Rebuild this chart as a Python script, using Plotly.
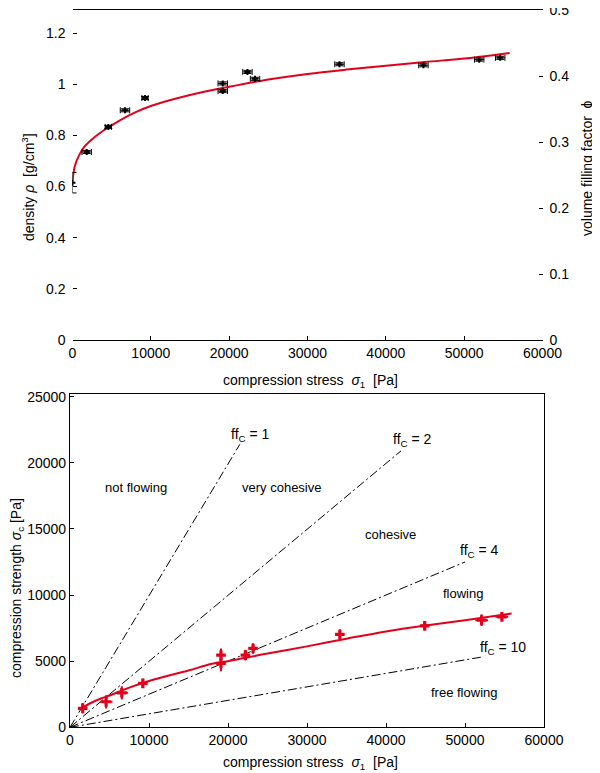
import plotly.graph_objects as go

# ---------------- top panel data ----------------
top_sigma = [0, 1810, 4570, 6700, 9260, 19180, 19180, 22330, 23300, 34080, 44800, 51920, 54600]
top_rho = [0.615, 0.735, 0.833, 0.898, 0.946, 1.003, 0.973, 1.048, 1.021, 1.078, 1.074, 1.096, 1.103]
top_err_x = [0, 600, 400, 600, 400, 600, 600, 600, 600, 600, 600, 600, 600]
top_err_y = [0.04, 0.006, 0.006, 0.006, 0.006, 0.006, 0.006, 0.006, 0.006, 0.006, 0.006, 0.006, 0.006]

top_fit_sigma = [0, 300, 800, 1500, 2500, 4000, 6000, 8000, 10000, 15000, 20000, 25000, 30000, 35000, 40000, 45000, 50000, 55800]
top_fit_rho = [0.62, 0.68, 0.72, 0.755, 0.785, 0.82, 0.858, 0.89, 0.915, 0.958, 0.99, 1.018, 1.04, 1.057, 1.072, 1.087, 1.10, 1.122]

x_ticks = [0, 10000, 20000, 30000, 40000, 50000, 60000]
x_tick_text = ["0", "10000", "20000", "30000", "40000", "50000", "60000"]
rho_ticks = [0, 0.2, 0.4, 0.6, 0.8, 1.0, 1.2]
rho_tick_text = ["0", "0.2", "0.4", "0.6", "0.8", "1", "1.2"]
phi_ticks = [0, 0.1, 0.2, 0.3, 0.4, 0.5]
phi_tick_text = ["0", "0.1", "0.2", "0.3", "0.4", "0.5"]

# ---------------- bottom panel data ----------------
bot_sigma = [1610, 4570, 6560, 9220, 19110, 19110, 22200, 23170, 34160, 44900, 52100, 54670]
bot_sigc = [1435, 1930, 2610, 3320, 5460, 4830, 5460, 5960, 7020, 7670, 8100, 8350]
bot_err_x = [300, 800, 800, 500, 300, 300, 500, 500, 500, 500, 800, 800]
bot_err_y = [400, 500, 500, 350, 500, 600, 400, 400, 400, 300, 450, 300]

bot_fit_sigma = [1500, 2500, 4000, 5000, 7500, 10000, 15000, 18000, 20000, 25000, 30000, 35000, 40000, 45000, 50000, 55900]
bot_fit_sigc = [1450, 1800, 2200, 2400, 3000, 3500, 4300, 4800, 5000, 5580, 6120, 6700, 7250, 7700, 8100, 8600]

sigc_ticks = [0, 5000, 10000, 15000, 20000, 25000]
sigc_tick_text = ["0", "5000", "10000", "15000", "20000", "25000"]

ffc_labels = ["1", "2", "4", "10"]
ffc_end_x = [21500, 41900, 50000, 52000]
ffc_end_y = [21400, 20900, 12500, 5300]
ffc_label_x = [22800, 43300, 51800, 54800]
ffc_label_y = [22100, 21700, 13300, 6000]

region_names = ["not flowing", "very cohesive", "cohesive", "flowing", "free flowing"]
region_x = [8400, 26800, 40600, 49700, 49900]
region_y = [18100, 18100, 14600, 10100, 2600]

RED = "#e3001b"
FONT = "Liberation Sans, Arial, sans-serif"

# the page body has an 8px margin: work in window pixels, convert to figure fractions
W, H, OFF = 592, 765, 8


def px(x):
    return min(1.0, max(0.0, (x - OFF) / W))


def py(y):
    return min(1.0, max(0.0, 1 - (y - OFF) / H))


fig = go.Figure()

# top panel
fig.add_trace(go.Scatter(
    x=top_fit_sigma, y=top_fit_rho, mode="lines", line=dict(color=RED, width=2, shape="spline"),
    xaxis="x", yaxis="y", showlegend=False, hoverinfo="skip"))
fig.add_trace(go.Scatter(
    x=top_sigma, y=top_rho, mode="markers",
    marker=dict(symbol="cross", size=5, color="black"),
    error_x=dict(type="data", array=top_err_x, color="black", thickness=1, width=3),
    error_y=dict(type="data", array=top_err_y, color="black", thickness=1, width=4),
    xaxis="x", yaxis="y", showlegend=False))
fig.add_trace(go.Scatter(x=[0], y=[0], mode="markers", marker=dict(opacity=0),
                         xaxis="x", yaxis="y2", showlegend=False, hoverinfo="skip"))

# bottom panel: ffc lines
for ex, ey in zip(ffc_end_x, ffc_end_y):
    fig.add_trace(go.Scatter(
        x=[0, ex], y=[0, ey], mode="lines",
        line=dict(color="black", width=1, dash="9px,3px,2px,3px"),
        xaxis="x3", yaxis="y3", showlegend=False, hoverinfo="skip"))
fig.add_trace(go.Scatter(
    x=bot_fit_sigma, y=bot_fit_sigc, mode="lines", line=dict(color=RED, width=2, shape="spline"),
    xaxis="x3", yaxis="y3", showlegend=False, hoverinfo="skip"))
fig.add_trace(go.Scatter(
    x=bot_sigma, y=bot_sigc, mode="markers",
    marker=dict(symbol="cross", size=8, color=RED),
    error_x=dict(type="data", array=bot_err_x, color=RED, thickness=2, width=0),
    error_y=dict(type="data", array=bot_err_y, color=RED, thickness=2, width=0),
    xaxis="x3", yaxis="y3", showlegend=False))

ann = []
for lab, lx, ly in zip(ffc_labels, ffc_label_x, ffc_label_y):
    ann.append(dict(x=lx, y=ly, xref="x3", yref="y3", text="ff<sub>C</sub> = " + lab,
                    xanchor="center", yanchor="middle",
                    showarrow=False, font=dict(size=14, color="black", family=FONT)))
for name, rx, ry in zip(region_names, region_x, region_y):
    ann.append(dict(x=rx, y=ry, xref="x3", yref="y3", text=name,
                    xanchor="center", yanchor="middle",
                    showarrow=False, font=dict(size=13, color="black", family=FONT)))

tf = dict(size=14, color="black", family=FONT)
titles = [
    (310, 381, 0, "compression stress  <i>σ</i><sub>1</sub>  [Pa]"),
    (310, 763, 0, "compression stress  <i>σ</i><sub>1</sub>  [Pa]"),
    (28, 187, -90, "density <i>ρ</i>  [g/cm<sup>3</sup>]"),
    (587, 168, -90, "volume filling factor  ϕ"),
    (17, 588, -90, "compression strength <i>σ</i><sub>c</sub> [Pa]"),
]
for tx, ty, ang, txt in titles:
    ann.append(dict(x=px(tx), y=py(ty), xref="paper", yref="paper", showarrow=False,
                    xanchor="center", yanchor="middle", textangle=ang, text=txt, font=tf))

tickf = dict(size=14, color="black", family=FONT)
common_x = dict(range=[0, 60000], tickvals=x_ticks, ticktext=x_tick_text, automargin=False,
                showgrid=False, zeroline=False, showline=True, mirror=True, linecolor="black", linewidth=1.2,
                ticks="inside", ticklen=4, tickcolor="black", tickfont=tickf, ticklabeloverflow="allow")
fig.update_layout(
    template="none",
    width=W, height=H, margin=dict(l=0, r=0, t=0, b=0, autoexpand=False),
    paper_bgcolor="white", plot_bgcolor="white",
    font=dict(family=FONT, color="black"),
    xaxis=dict(domain=[px(72.5), px(542.5)], anchor="y", **common_x),
    yaxis=dict(domain=[py(340), py(9.5)], anchor="x", range=[0, 1.292], automargin=False,
               tickvals=rho_ticks, ticktext=rho_tick_text, ticklabeloverflow="allow",
               showgrid=False, zeroline=False, showline=False,
               ticks="inside", ticklen=4, tickcolor="black", tickfont=tickf, ticklabelstandoff=6),
    yaxis2=dict(overlaying="y", side="right", anchor="x", range=[0, 0.5012], automargin=False,
                tickvals=phi_ticks, ticktext=phi_tick_text, ticklabeloverflow="allow",
                showgrid=False, zeroline=False, showline=False,
                ticks="inside", ticklen=4, tickcolor="black", tickfont=tickf, ticklabelstandoff=6),
    xaxis3=dict(domain=[px(70), px(544)], anchor="y3", **common_x),
    yaxis3=dict(domain=[py(727.3), py(394)], anchor="x3", range=[0, 25200], automargin=False,
                tickvals=sigc_ticks, ticktext=sigc_tick_text, ticklabeloverflow="allow",
                showgrid=False, zeroline=False, showline=True, mirror=True, linecolor="black", linewidth=1.2,
                ticks="inside", ticklen=4, tickcolor="black", tickfont=tickf),
    annotations=ann,
)

fig.write_html("out.html")
